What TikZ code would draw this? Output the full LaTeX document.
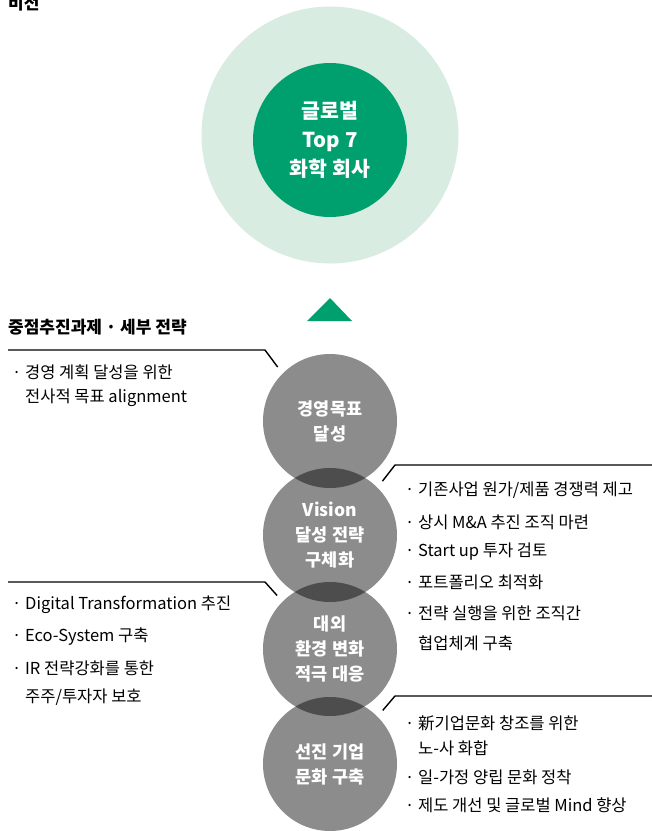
\documentclass[tikz,border=0pt]{standalone}
\usepackage{fontspec}
\setmainfont{Noto Sans CJK KR}
\definecolor{visiongreen}{RGB}{0,160,110}
\definecolor{visionpale}{RGB}{216,236,225}

\begin{document}
\begin{tikzpicture}[x=1pt,y=-1pt,
    txt/.style={anchor=west,inner sep=0pt,font=\fontsize{16.5}{20}\selectfont},
    head/.style={anchor=west,inner sep=0pt,font=\bfseries\fontsize{17}{20}\selectfont},
    stage/.style={circle,minimum size=134pt,inner sep=0pt,fill=black,fill opacity=0.45,
        text opacity=1,text=white,align=center,font=\bfseries\fontsize{17.5}{25}\selectfont},
    callout/.style={line width=1.4pt,shorten >=8pt}]
    \useasboundingbox (0,0) rectangle (652,831);
    % vision
    \node[head,anchor=base west] (vtitle) at (8,9) {비전};
    \node[circle,fill=visionpale,minimum size=257pt,inner sep=0pt] (outer) at (330,135) {};
    \node[circle,fill=visiongreen,minimum size=154pt,inner sep=0pt,text=white,align=center,
        font=\bfseries\fontsize{20.5}{29}\selectfont] (inner) at (330,140) {글로벌\\Top 7\\화학 회사};
    \fill[visiongreen] (330,298) -- (352,321) -- (307,321) -- cycle;
    % strategy
    \node[head] (ptitle) at (8,327) {중점추진과제 · 세부 전략};
    \foreach \n/\y/\lbl in {1/421/{경영목표\\달성},2/535/{Vision\\달성 전략\\구체화},
            3/649/{대외\\환경 변화\\적극 대응},4/764/{선진 기업\\문화 구축}}
        \node[stage] (s\n) at (330,\y) {\lbl};
    % callouts
    \coordinate (k1) at (8,350);
    \coordinate (k2) at (652,465);
    \coordinate (k3) at (8,582);
    \coordinate (k4) at (652,696);
    \draw[callout] (k1) -- (265,350) -- (s1.north west);
    \draw[callout] (k2) -- (395,465) -- (s2.north east);
    \draw[callout] (k3) -- (265,582) -- (s3.north west);
    \draw[callout] (k4) -- (395,696) -- (s4.north east);
    % texts
    \node[txt] (a1) at (12,372) {· 경영 계획 달성을 위한};
    \node[txt] (a2) at (25,398) {전사적 목표 alignment};
    \foreach \y/\t [count=\i] in {490/{기존사업 원가/제품 경쟁력 제고},522/{상시 M\&A 추진 조직 마련},
            552/{Start up 투자 검토},582/{포트폴리오 최적화},613/{전략 실행을 위한 조직간}}
        \node[txt] (b\i) at (405,\y) {· \t};
    \node[txt] (b6) at (418,643) {협업체계 구축};
    \foreach \y/\t [count=\i] in {605/{Digital Transformation 추진},637/{Eco-System 구축},
            668/{IR 전략강화를 통한}}
        \node[txt] (c\i) at (12,\y) {· \t};
    \node[txt] (c4) at (25,697) {주주/투자자 보호};
    \node[txt] (d1) at (405,723) {· 新기업문화 창조를 위한};
    \node[txt] (d2) at (418,748) {노-사 화합};
    \node[txt] (d3) at (405,777) {· 일-가정 양립 문화 정착};
    \node[txt] (d4) at (405,805) {· 제도 개선 및 글로벌 Mind 향상};
\end{tikzpicture}
\end{document}
